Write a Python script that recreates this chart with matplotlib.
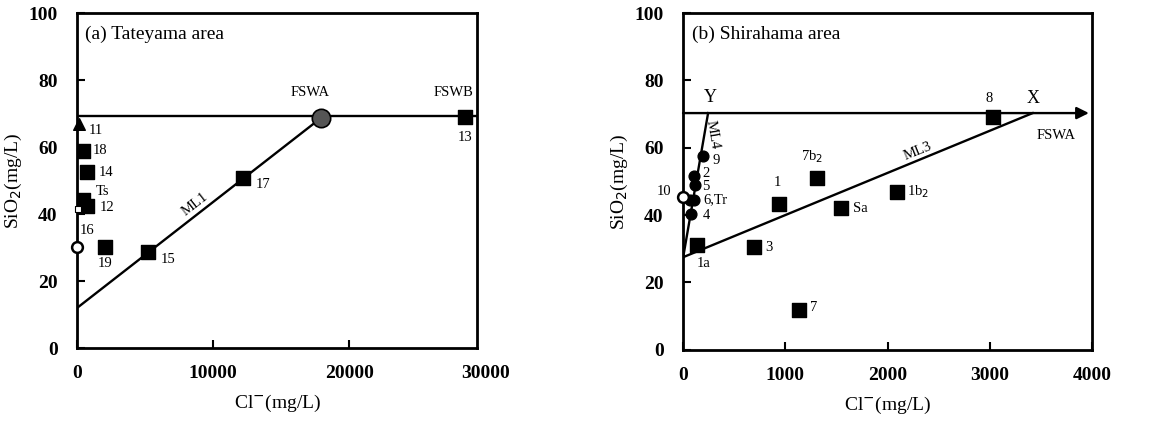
import matplotlib
matplotlib.use("Agg")
import matplotlib.pyplot as plt
import numpy as np

plt.rcParams['font.family'] = ['Liberation Serif', 'DejaVu Serif']

# ---- Panel (a) Tateyama area ----
a_sq_labels = ["13", "17", "15", "19", "12", "Ts", "14", "18"]
a_sq_cl = [28500, 12200, 5230, 2060, 740, 450, 700, 430]
a_sq_si = [69.0, 50.7, 28.6, 30.2, 42.4, 44.2, 52.5, 58.9]
a_tri_cl = [130]
a_tri_si = [67.0]
a_open_cl = [0]
a_open_si = [30.3]
a_small_cl = [60]
a_small_si = [41.5]
a_fswa_cl = [17900]
a_fswa_si = [68.6]
a_hline_si = 69.3
a_ml1_cl = [0, 17900]
a_ml1_si = [12.0, 68.6]

# ---- Panel (b) Shirahama area ----
b_circ_labels = ["9", "2", "5", "6,Tr", "4"]
b_circ_cl = [196, 110, 115, 105, 80]
b_circ_si = [57.6, 51.5, 49.0, 44.5, 40.4]
b_circ2_cl = [70]
b_circ2_si = [44.5]
b_open_cl = [0]
b_open_si = [45.5]
b_sq_labels = ["1a", "3", "1", "7b$_2$", "Sa", "1b$_2$", "7", "8"]
b_sq_cl = [140, 690, 940, 1310, 1550, 2090, 1130, 3030]
b_sq_si = [31.0, 30.5, 43.3, 51.0, 42.0, 47.0, 11.7, 69.2]
b_hline_si = 70.3
b_ml4_cl = [0, 245]
b_ml4_si = [27.3, 70.3]
b_ml3_cl = [0, 3420]
b_ml3_si = [27.5, 70.3]

a_xticks = [0, 10000, 20000]
b_xticks = [0, 1000, 2000, 3000, 4000]
yticks = [0, 20, 40, 60, 80, 100]

fig = plt.figure(figsize=(11.71, 4.21), dpi=100)
axa = fig.add_axes([0.0658, 0.173, 0.3416, 0.796])
axb = fig.add_axes([0.5833, 0.169, 0.3492, 0.800])

SQ = 95
CI = 60
LW = 1.7

axa.set_xlim(0, 29400)
axa.set_xticks(a_xticks)
axb.set_xlim(0, 4000)
axb.set_xticks(b_xticks)

for ax in (axa, axb):
    for s in ax.spines.values():
        s.set_linewidth(2)
    ax.set_ylim(0, 100)
    ax.set_yticks(yticks)
    ax.tick_params(axis='x', direction='in', length=6, width=1.5, labelsize=14, pad=12)
    ax.tick_params(axis='y', direction='in', length=6, width=1.5, labelsize=14, pad=14)
    for lab in ax.get_xticklabels() + ax.get_yticklabels():
        lab.set_fontweight('bold')
    ax.set_ylabel('SiO$_2$(mg/L)', fontsize=14, labelpad=3)
    ax.set_xlabel('Cl$^{-}$(mg/L)', fontsize=14, labelpad=8)

# Panel (a)
axa.annotate('30000', xy=(30000, 0), xycoords=axa.get_xaxis_transform(),
             xytext=(0, -12), textcoords='offset points', fontsize=14,
             fontweight='bold', ha='center', va='top', annotation_clip=False)
axa.plot([0, 29400], [a_hline_si, a_hline_si], color='black', lw=LW, zorder=2)
axa.plot(a_ml1_cl, a_ml1_si, color='black', lw=LW, zorder=2)
axa.scatter(a_sq_cl, a_sq_si, marker='s', s=SQ, color='black', zorder=4)
axa.scatter(a_tri_cl, a_tri_si, marker='^', s=70, color='black', zorder=4, clip_on=False)
axa.scatter(a_open_cl, a_open_si, marker='o', s=CI, facecolor='white', edgecolor='black', lw=1.8, zorder=5, clip_on=False)
axa.scatter(a_small_cl, a_small_si, marker='s', s=16, facecolor='white', edgecolor='black', lw=0.8, zorder=5, clip_on=False)
axa.scatter(a_fswa_cl, a_fswa_si, marker='o', s=175, facecolor='#555555', edgecolor='black', lw=1.2, zorder=5)

a_offsets = {"13": (0, -6, 'center', 'center'), "17": (900, -2, 'left', 'center'),
             "15": (900, -2, 'left', 'center'), "19": (0, -5, 'center', 'center'),
             "12": (900, -0.5, 'left', 'center'), "Ts": (1400, 2.5, 'center', 'center'),
             "14": (900, 0, 'left', 'center'), "18": (700, 0, 'left', 'center')}
for lab, x, y in zip(a_sq_labels, a_sq_cl, a_sq_si):
    dx, dy, ha, va = a_offsets[lab]
    axa.text(x + dx, y + dy, lab, fontsize=10.5, ha=ha, va=va)
axa.text(a_tri_cl[0] + 700, a_tri_si[0] - 2, '11', fontsize=10.5, ha='left', va='center')
axa.text(730, 35.2, '16', fontsize=10.5, ha='center', va='center')
axa.text(a_fswa_cl[0] - 800, 76.4, 'FSWA', fontsize=10.5, ha='center', va='center')
axa.text(27700, 76.4, 'FSWB', fontsize=10.5, ha='center', va='center')
axa.text(8700, 43, 'ML1', fontsize=10.5, ha='center', va='center', rotation=38)
axa.text(600, 93.7, '(a) Tateyama area', fontsize=14, ha='left', va='center')

# Panel (b)
axb.annotate('', xy=(3970, b_hline_si), xytext=(0, b_hline_si),
             arrowprops=dict(arrowstyle='-|>', color='black', lw=LW, mutation_scale=18,
                             shrinkA=0, shrinkB=0), zorder=2)
axb.plot(b_ml4_cl, b_ml4_si, color='black', lw=LW, zorder=2)
axb.plot(b_ml3_cl, b_ml3_si, color='black', lw=LW, zorder=2)
axb.scatter(b_circ_cl, b_circ_si, marker='o', s=CI, color='black', zorder=4)
axb.scatter(b_circ2_cl, b_circ2_si, marker='o', s=CI, color='black', zorder=4)
axb.scatter(b_open_cl, b_open_si, marker='o', s=CI, facecolor='white', edgecolor='black', lw=1.8, zorder=5, clip_on=False)
axb.scatter(b_sq_cl, b_sq_si, marker='s', s=SQ, color='black', zorder=4)

b_circ_off = {"9": (90, -1.5, 'left'), "2": (75, 1, 'left'), "5": (75, -0.5, 'left'),
              "6,Tr": (90, 0, 'left'), "4": (110, -0.5, 'left')}
for lab, x, y in zip(b_circ_labels, b_circ_cl, b_circ_si):
    dx, dy, ha = b_circ_off[lab]
    axb.text(x + dx, y + dy, lab, fontsize=10.5, ha=ha, va='center')
axb.text(-190, 47, '10', fontsize=10.5, ha='center', va='center')
b_sq_off = {"1a": (60, -5.5, 'center', 'center'), "3": (110, 0, 'left', 'center'),
            "1": (-20, 6.5, 'center', 'center'), "7b$_2$": (-50, 6.5, 'center', 'center'),
            "Sa": (110, 0, 'left', 'center'), "1b$_2$": (100, 0, 'left', 'center'),
            "7": (110, 1, 'left', 'center'), "8": (-40, 5.5, 'center', 'center')}
for lab, x, y in zip(b_sq_labels, b_sq_cl, b_sq_si):
    dx, dy, ha, va = b_sq_off[lab]
    axb.text(x + dx, y + dy, lab, fontsize=10.5, ha=ha, va=va)
axb.text(265, 75, 'Y', fontsize=13, ha='center', va='center')
axb.text(3420, 74.5, 'X', fontsize=13, ha='center', va='center')
axb.text(3650, 63.5, 'FSWA', fontsize=10.5, ha='center', va='center')
axb.text(2300, 59, 'ML3', fontsize=10.5, ha='center', va='center', rotation=22)
axb.text(285, 64, 'ML4', fontsize=10.5, ha='center', va='center', rotation=-80)
axb.text(90, 93.7, '(b) Shirahama area', fontsize=14, ha='left', va='center')

fig.savefig('out.png', dpi=100)
